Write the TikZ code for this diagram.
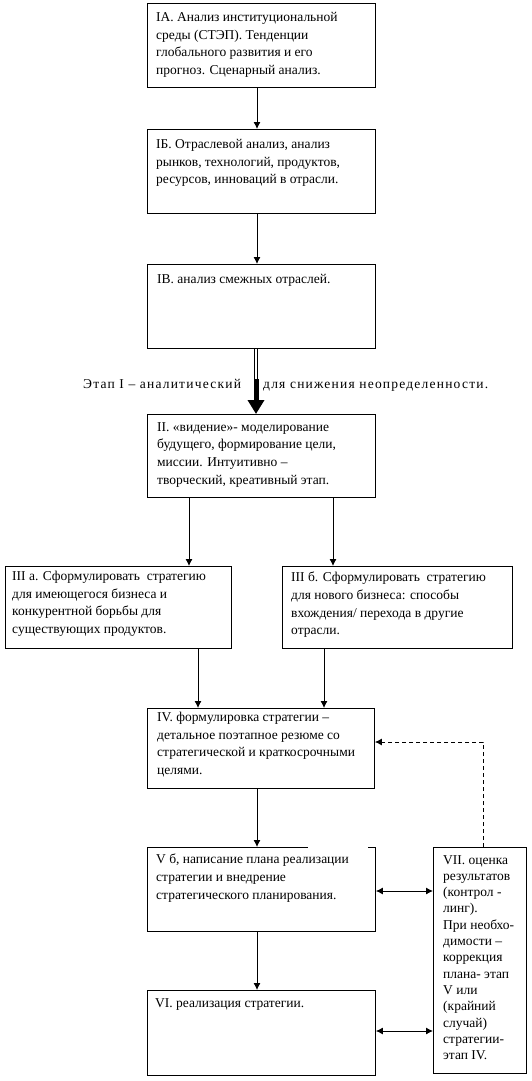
\documentclass[tikz,border=0pt]{standalone}
\usepackage{fontspec}
\setmainfont{Liberation Serif}
\newfontfamily\spacedfont[LetterSpace=9]{Liberation Serif}
\usetikzlibrary{arrows.meta,calc}
\begin{document}
\begin{tikzpicture}[x=1pt,y=-1pt,
  box/.style={draw,line width=0.9pt,anchor=north west,inner sep=0pt},
  txt/.style={anchor=north west,inner sep=0pt,align=left,font=\fontsize{13.5}{17.7}\selectfont},
  arr/.style={line width=0.9pt,-{Latex[length=7pt,width=7pt]}},
  darr/.style={line width=0.9pt,{Latex[length=7pt,width=7pt]}-{Latex[length=7pt,width=7pt]}},
  lab/.style={anchor=base west,inner sep=0pt,font=\spacedfont\fontsize{13.5}{16}\selectfont}]
\useasboundingbox (0,0) rectangle (532,1081);
\fill[white] (0,0) rectangle (532,1081);
% column coordinates
\coordinate (c) at (257,0);
\coordinate (cb) at (256,0);
\coordinate (l1) at (189,0);
\coordinate (r1) at (333,0);
\coordinate (l2) at (198,0);
\coordinate (r2) at (324,0);
\coordinate (d) at (483,0);
\coordinate (dm) at (0,742);
\coordinate (y1) at (0,891);
\coordinate (y2) at (0,1031);
\coordinate (mid) at (256,379);
% boxes
\node[box,minimum width=228pt,minimum height=84pt] (ia) at (147,3) {};
\node[box,minimum width=228pt,minimum height=84pt] (ib) at (147,129) {};
\node[box,minimum width=228pt,minimum height=84pt] (iv1) at (147,264) {};
\node[box,minimum width=228pt,minimum height=83pt] (ii) at (147,414) {};
\node[box,minimum width=226pt,minimum height=82pt] (iiia) at (5,566) {};
\node[box,minimum width=230pt,minimum height=82pt] (iiib) at (282,566) {};
\node[box,minimum width=227pt,minimum height=80pt] (iv) at (147,708) {};
\node[box,minimum width=228pt,minimum height=84pt] (vb) at (147,847) {};
\node[box,minimum width=228pt,minimum height=85pt] (vi) at (147,990) {};
\node[box,minimum width=93pt,minimum height=226pt] (vii) at (433,847) {};
\fill[white] (308,845.5) rectangle (368,848.5);
% texts
\node[txt] (ia-t) at (156,12) {IA. Анализ институциональной\\среды (СТЭП). Тенденции\\глобального развития и его\\прогноз. Сценарный анализ.};
\node[txt] (ib-t) at (156,139) {IБ. Отраслевой анализ, анализ\\рынков, технологий, продуктов,\\ресурсов, инноваций в отрасли.};
\node[txt] (iv1-t) at (157,274) {IВ. анализ смежных отраслей.};
\node[txt] (ii-t) at (157,422) {II. «видение»- моделирование\\будущего, формирование цели,\\миссии. Интуитивно –\\творческий, креативный этап.};
\node[txt] (iiia-t) at (12,571) {III а. Сформулировать\ \ стратегию\\для имеющегося бизнеса и\\конкурентной борьбы для\\существующих продуктов.};
\node[txt] (iiib-t) at (291,572) {III б. Сформулировать\ \ стратегию\\для нового бизнеса: способы\\вхождения/ перехода в другие\\отрасли.};
\node[txt] (iv-t) at (157,712) {IV. формулировка стратегии –\\детальное поэтапное резюме со\\стратегической и краткосрочными\\целями.};
\node[txt] (vb-t) at (156,854) {V б, написание плана реализации\\стратегии и внедрение\\стратегического планирования.};
\node[txt] (vi-t) at (155,998) {VI. реализация стратегии.};
\node[txt,font=\fontsize{13.5}{16.3}\selectfont] (vii-t) at (443,855) {VII. оценка\\результатов\\(контрол -\\линг).\\При необхо-\\димости –\\коррекция\\плана- этап\\V или\\(крайний\\случай)\\стратегии-\\этап IV.};
% labels
\node[lab] (et1) at (83,388) {Этап I – аналитический};
\node[lab] (et2) at (263,388) {для снижения неопределенности.};
% connectors
\draw[arr] (ia.south -| c) -- (ib.north -| c);
\draw[arr] (ib.south -| c) -- (iv1.north -| c);
\draw[line width=0.8pt,double,double distance=1.8pt] (iv1.south -| cb) -- (mid);
\draw[line width=5pt,-{Triangle[length=14pt,width=16pt]}] (mid) -- (ii.north -| cb);
\draw[arr] (ii.south -| l1) -- (iiia.north -| l1);
\draw[arr] (ii.south -| r1) -- (iiib.north -| r1);
\draw[arr] (iiia.south -| l2) -- (iv.north -| l2);
\draw[arr] (iiib.south -| r2) -- (iv.north -| r2);
\draw[arr] (iv.south -| c) -- (vb.north -| c);
\draw[arr] (vb.south -| c) -- (vi.north -| c);
\draw[darr] (vb.east |- y1) -- (vii.west |- y1);
\draw[darr] (vi.east |- y2) -- (vii.west |- y2);
\draw[line width=0.9pt,dash pattern=on 4pt off 3pt,-{Latex[length=7pt,width=7pt]}] (vii.north -| d) |- (iv.east |- dm);
\end{tikzpicture}
\end{document}
